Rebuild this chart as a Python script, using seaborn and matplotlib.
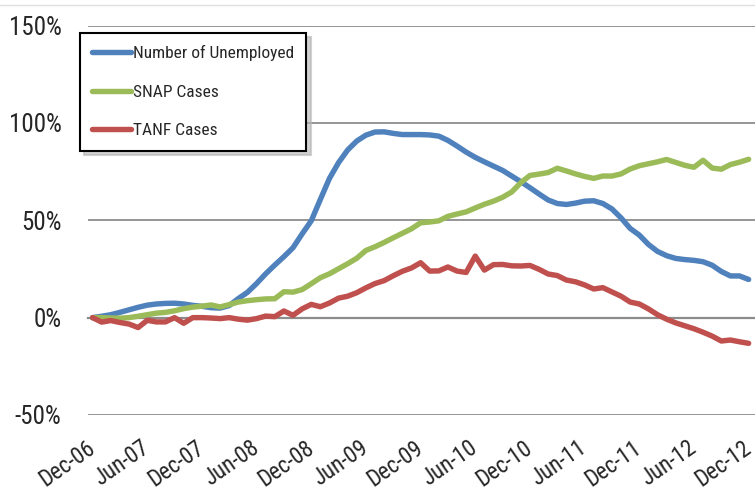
import numpy as np
import pandas as pd
import matplotlib
matplotlib.use('Agg')
import matplotlib.pyplot as plt
import seaborn as sns
from matplotlib import font_manager as fm
from matplotlib.lines import Line2D


# monthly % change since Dec-06
months = pd.date_range('2006-12-01', '2012-12-01', freq='MS')
month_labels = [d.strftime('%b-%y') for d in months]

unemployed = [0, 0.7, 1.5, 2.7, 4, 5.3, 6.4, 7, 7.3, 7.4,
              7, 6.3, 5.8, 5.1, 4.9, 6.2, 9.8, 13, 17.5, 22.5,
              27, 31.3, 35.9, 43, 49.7, 60.7, 71.5, 79.6, 86.1, 90.7,
              93.7, 95.3, 95.4, 94.6, 94, 94, 94, 93.8, 93.2, 91,
              88.1, 85, 82.3, 80, 77.8, 75.6, 72.7, 69.8, 66.7, 63.5,
              60.4, 58.6, 58.1, 58.8, 59.8, 60, 58.6, 55.8, 51.2, 45.8,
              42.4, 37.6, 34, 31.8, 30.4, 29.8, 29.4, 28.7, 26.9, 23.7,
              21.4, 21.4, 19.6]

snap = [0, 0, -0.2, -0.3, 0, 0.7, 1.5, 2.3, 2.7, 3.5,
        4.6, 5.4, 5.9, 6.5, 5.5, 6.7, 8, 8.7, 9.2, 9.6,
        9.7, 13.3, 13.1, 14.4, 17.4, 20.5, 22.5, 25.1, 27.7, 30.5,
        34.5, 36.4, 38.6, 41, 43.3, 45.6, 48.7, 49.1, 49.7, 52,
        53.2, 54.3, 56.3, 58.2, 59.8, 61.8, 64.5, 69.3, 73, 73.7,
        74.5, 76.7, 75.3, 73.8, 72.5, 71.5, 72.7, 72.7, 73.8, 76.3,
        78, 79, 80, 81.2, 79.7, 78.2, 77.2, 80.8, 76.8, 76.2,
        78.6, 79.8, 81.3]

tanf = [0, -2.3, -1.5, -2.5, -3.3, -5.1, -1.4, -2.2, -2.2, 0,
        -2.9, 0, 0, -0.2, -0.5, 0, -0.8, -1.3, -0.5, 0.8,
        0.5, 3.4, 1.2, 4.5, 6.8, 5.6, 7.5, 10, 11, 12.8,
        15.3, 17.5, 19, 21.5, 23.8, 25.5, 28.2, 23.9, 24, 26,
        23.9, 23.2, 31.6, 24.4, 27.2, 27.3, 26.6, 26.5, 26.8, 24.8,
        22.4, 21.6, 19.3, 18.4, 16.8, 14.7, 15.4, 13.2, 11, 8,
        7, 4.5, 1.5, -0.8, -2.7, -4.2, -5.7, -7.5, -9.5, -12,
        -11.5, -12.4, -13.2]

series_names = ['Number of Unemployed', 'SNAP Cases', 'TANF Cases']
series_colors = ['#4F81BD', '#9BBB59', '#C0504D']
y_ticks = [-50, 0, 50, 100, 150]


def pick_narrow_font():
    # the original uses a condensed face; take whatever narrow one is installed
    fonts = fm.fontManager.ttflist
    names = {f.name for f in fonts}
    for name in ['Liberation Sans Narrow', 'Roboto Condensed', 'Open Sans Condensed',
                 'Noto Sans Condensed', 'Noto Sans SemiCondensed', 'DejaVu Sans Condensed']:
        if name in names:
            return name, 'normal'
    for name in ['Noto Sans', 'Roboto', 'Open Sans', 'DejaVu Sans']:
        for f in fonts:
            if f.name == name and f.style == 'normal' and \
                    str(f.stretch) in ('condensed', 'semi-condensed', 'extra-condensed'):
                return name, f.stretch
    return 'Liberation Sans', 'normal'


font_name, font_stretch = pick_narrow_font()

df = pd.DataFrame({'month': np.arange(len(months)),
                   series_names[0]: unemployed,
                   series_names[1]: snap,
                   series_names[2]: tanf})
long_df = df.melt(id_vars='month', var_name='series', value_name='pct')

sns.set_style('white')
plt.rcParams['font.family'] = [font_name, 'DejaVu Sans']
plt.rcParams['font.stretch'] = font_stretch
plt.rcParams['lines.solid_capstyle'] = 'round'
plt.rcParams['lines.solid_joinstyle'] = 'round'

fig = plt.figure(figsize=(7.55, 4.91), dpi=100)
ax = fig.add_axes([88 / 755, 1 - 415 / 491, 1 - 88 / 755, (415 - 25.5) / 491])

sns.lineplot(data=long_df, x='month', y='pct', hue='series',
             palette=dict(zip(series_names, series_colors)),
             linewidth=3.9, ax=ax)

ax.set_xlim(-0.5, 72.7)
ax.set_ylim(-50, 150)
ax.set_xlabel('')
ax.set_ylabel('')

# y axis: gridlines, percent labels
ax.set_yticks(y_ticks)
ax.set_yticklabels([f'{v}%' for v in y_ticks])
ax.yaxis.grid(True, color='#8c8c8c', linewidth=1.3)
ax.tick_params(axis='y', length=0, pad=19, labelsize=18)
ax.set_axisbelow(True)

for side in ['top', 'right', 'left']:
    ax.spines[side].set_visible(False)

# category axis drawn at zero, tick marks between categories
ax.spines['bottom'].set_position(('data', 0))
ax.spines['bottom'].set_color('#8c8c8c')
ax.spines['bottom'].set_linewidth(1.6)
ax.spines['bottom'].set_zorder(1)
ax.set_xticks(np.arange(0, len(months) + 1, 6) - 0.5)
ax.tick_params(axis='x', direction='in', length=8, width=1.5,
               color='#8c8c8c', labelbottom=False)

# labels sit low, below the plot area
sec = ax.secondary_xaxis('bottom')
label_idx = list(range(0, len(months), 6))
sec.set_xticks(label_idx)
sec.set_xticklabels([month_labels[i] for i in label_idx])
sec.spines['bottom'].set_visible(False)
sec.tick_params(length=0, pad=22, labelsize=16.5)
plt.setp(sec.get_xticklabels(), rotation=35, ha='right', va='center',
         rotation_mode='anchor')

handles, labels = ax.get_legend_handles_labels()
leg = ax.legend(handles, labels, loc='upper left',
                bbox_to_anchor=(80 / 755, 1 - 33 / 491),
                bbox_transform=fig.transFigure, borderaxespad=0,
                fontsize=12.5, handlelength=2.25, handletextpad=0.1,
                labelspacing=1.35, borderpad=0.7, fancybox=False,
                frameon=True, framealpha=1,
                shadow={'ox': 3, 'oy': -3, 'color': '0.7', 'alpha': 0.6})
leg.get_frame().set_edgecolor('black')
leg.get_frame().set_linewidth(1.5)

# thin page rule at the very top
fig.add_artist(Line2D([0, 1], [1 - 5 / 491, 1 - 5 / 491],
                      transform=fig.transFigure, color='#e0e0e0', lw=1))

fig.savefig('out.png', dpi=100)
